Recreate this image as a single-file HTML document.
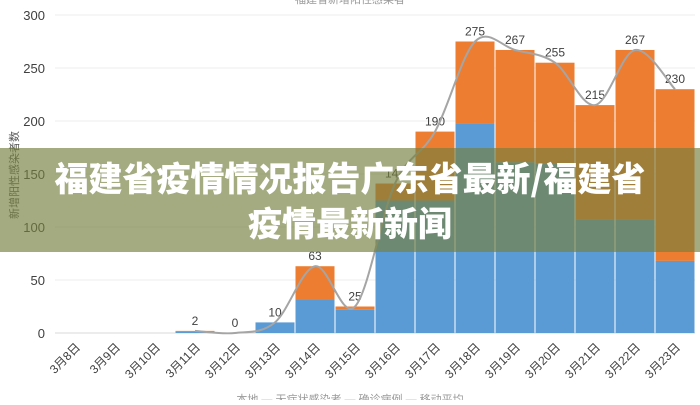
<!DOCTYPE html>
<html><head><meta charset="utf-8"><style>
body{margin:0;width:700px;height:400px;background:#fff;overflow:hidden;font-family:"Liberation Sans","Noto Sans CJK SC",sans-serif}
#wrap{position:relative;width:700px;height:400px}
#banner{position:absolute;left:0;top:148px;width:700px;height:104px;background:rgba(118,128,62,0.66);color:#fff;font-family:"Noto Sans CJK SC",sans-serif;font-weight:900;font-size:34px;line-height:45px;text-align:center;padding-top:6px;box-sizing:border-box;letter-spacing:0px}
</style></head><body><div id="wrap">
<svg id="chart" width="700" height="400"></svg>
<div id="banner">福建省疫情情况报告广东省最新/福建省<br>疫情最新新闻</div>
</div>
<script>
const categories=["3月8日","3月9日","3月10日","3月11日","3月12日","3月13日","3月14日","3月15日","3月16日","3月17日","3月18日","3月19日","3月20日","3月21日","3月22日","3月23日"];
const blueValues=[0,0,0,1,0,10,32,22,125,125,198,161,160,107,107,68];
const totalValues=[0,0,0,2,0,10,63,25,141,190,275,267,255,215,267,230];
const labelValues=[null,null,null,2,0,10,63,25,141,190,275,267,255,215,267,230];
const yTicks=[0,50,100,150,200,250,300];
const NS="http://www.w3.org/2000/svg",svg=document.getElementById('chart');
const x0=55,slot=40,yb=333,ys=318/300;
const X=i=>x0+i*slot, Y=v=>yb-v*ys;
function mk(t,a,txt){const e=document.createElementNS(NS,t);for(const k in a)e.setAttribute(k,a[k]);if(txt!=null)e.textContent=txt;svg.appendChild(e);return e;}
yTicks.forEach(v=>{
 const g=mk('line',{x1:55,x2:695,y1:Y(v),y2:Y(v),stroke:v==0?'#d9d9d9':'#eeeeee'});
 
 
 const t=mk('text',{x:45,y:Y(v)+5,'text-anchor':'end','font-size':13,fill:'#404040'},v);
 
 
});
const yt=mk('text',{transform:'translate(18,175) rotate(-90)','text-anchor':'middle','font-size':11,fill:'#555'},'新增阳性感染者数');


const tt=mk('text',{x:350,y:3,'text-anchor':'middle','font-size':11,fill:'#999'},'福建省新增阳性感染者');


categories.forEach((c,i)=>{
 const b=blueValues[i],t=totalValues[i];
 if(t>b){const r=mk('rect',{x:X(i)+0.5,y:Y(t),width:slot-1,height:Y(b)-Y(t),fill:'#ed7d31'});
 
 }
 if(b>0){const r=mk('rect',{x:X(i)+0.5,y:Y(b),width:slot-1,height:Y(0)-Y(b),fill:'#5b9bd5'});
 
 }
 const cx=X(i)+slot/2;
 const l=mk('text',{transform:`translate(${cx+6},${348}) rotate(-45)`,'text-anchor':'end','font-size':12,fill:'#404040'},c);
 
 
 if(labelValues[i]!=null){const v=mk('text',{x:cx,y:Y(t)-6,'text-anchor':'middle','font-size':12,fill:'#404040'},labelValues[i]);
 
 }
});
const pts=[];for(let i=3;i<categories.length;i++)pts.push([X(i)+slot/2,Y(totalValues[i])]);
let d=`M${pts[0][0]},${pts[0][1]}`;
for(let i=0;i<pts.length-1;i++){const p0=pts[Math.max(0,i-1)],p1=pts[i],p2=pts[i+1],p3=pts[Math.min(pts.length-1,i+2)];
 d+=` C${p1[0]+(p2[0]-p0[0])/6},${p1[1]+(p2[1]-p0[1])/6} ${p2[0]-(p3[0]-p1[0])/6},${p2[1]-(p3[1]-p1[1])/6} ${p2[0]},${p2[1]}`;}
const ln=mk('path',{d:d,fill:'none',stroke:'#a5a5a5','stroke-width':2});


const lg=mk('text',{x:350,y:403,'text-anchor':'middle','font-size':11,fill:'#999'},'本地 — 无症状感染者 — 确诊病例 — 移动平均');


</script></body></html>
